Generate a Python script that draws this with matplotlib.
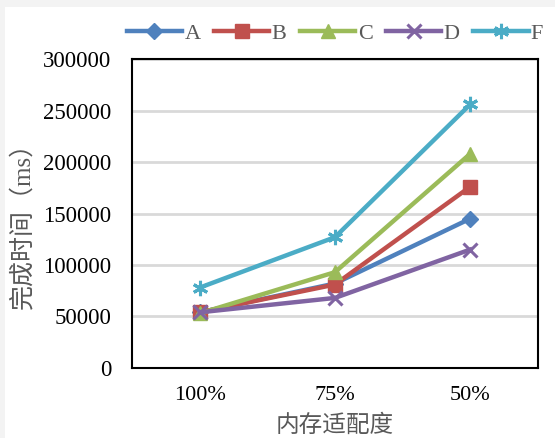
import matplotlib
matplotlib.use("Agg")
import matplotlib.pyplot as plt
from matplotlib.patches import Rectangle

plt.rcParams['font.family'] = ['Liberation Serif', 'Noto Sans CJK SC', 'DejaVu Sans']

# memory fit ratio categories and completion time (ms) per method
categories = ["100%", "75%", "50%"]
series_names = ["A", "B", "C", "D", "F"]
time_a = [54000, 82000, 145000]
time_b = [54000, 81000, 176000]
time_c = [53000, 93000, 208000]
time_d = [54000, 68000, 115000]
time_f = [78000, 127000, 256000]
y_ticks = [0, 50000, 100000, 150000, 200000, 250000, 300000]

colors = ["#4F81BD", "#C0504D", "#9BBB59", "#8064A2", "#4BACC6"]
markers = ["D", "s", "^", "x", (6, 2, 0)]
msizes = [8, 10, 10, 10, 11]

fig = plt.figure(figsize=(5.55, 4.38), dpi=100)
# thin grey frame strips along the top and left edge
fig.patches.append(Rectangle((0, 0.984), 1, 0.016, transform=fig.transFigure,
                             facecolor="#f3f3f3", edgecolor="none", zorder=0))
fig.patches.append(Rectangle((0, 0), 0.009, 1, transform=fig.transFigure,
                             facecolor="#f3f3f3", edgecolor="none", zorder=0))

ax = fig.add_axes([0.238, 0.160, 0.731, 0.705])
x = range(len(categories))
for name, vals, c, m, ms in zip(series_names, [time_a, time_b, time_c, time_d, time_f],
                                colors, markers, msizes):
    ax.plot(x, vals, color=c, lw=3.2, marker=m, markersize=ms,
            markeredgewidth=2.2 if m in ("x",) or isinstance(m, tuple) else 1,
            markeredgecolor=c, markerfacecolor=c, label=name, zorder=3)

ax.set_xlim(-0.5, 2.5)
ax.set_ylim(0, 300000)
ax.set_yticks(y_ticks)
ax.set_yticklabels([str(v) for v in y_ticks], fontsize=16.5)
ax.set_xticks(list(x))
ax.set_xticklabels(categories, fontsize=16)
ax.tick_params(length=0)
ax.tick_params(axis='y', pad=15)
ax.tick_params(axis='x', pad=13)
ax.grid(axis='y', color="#d9d9d9", lw=2)
ax.set_axisbelow(True)
for s in ax.spines.values():
    s.set_color("black")
    s.set_linewidth(1.5)

ax.set_xlabel("内存适配度", fontsize=17, color="#595959",
              family=['Noto Sans CJK SC'])
ax.xaxis.set_label_coords(0.5, -0.15)
ax.set_ylabel("完成时间（ms）", fontsize=18, color="#595959")
ax.yaxis.set_label_coords(-0.24, 0.48)

ax.legend(loc="lower center", bbox_to_anchor=(0.5, 1.0), ncol=5, frameon=False,
          fontsize=16, labelcolor="#595959", handlelength=2.5, handletextpad=0.1,
          columnspacing=0.6, borderaxespad=0.3)

fig.savefig("out.png", dpi=100)
